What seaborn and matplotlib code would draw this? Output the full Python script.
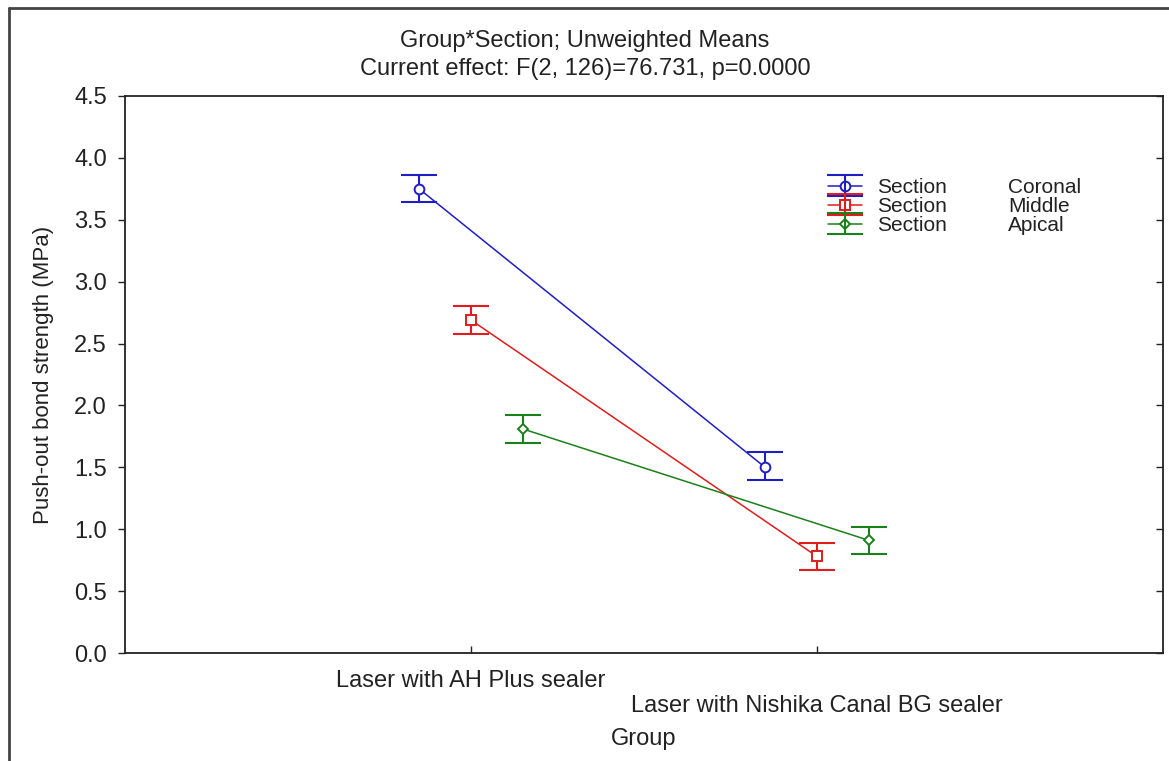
import matplotlib
matplotlib.use("Agg")
import matplotlib.pyplot as plt
import matplotlib.transforms as mtransforms
from matplotlib.lines import Line2D
from matplotlib.legend_handler import HandlerTuple
import seaborn as sns
import pandas as pd
import numpy as np

# ---- data ----
groups = ["Laser with AH Plus sealer", "Laser with Nishika Canal BG sealer"]
sections = ["Coronal", "Middle", "Apical"]
coronal_mean = [3.75, 1.50]
coronal_lo = [3.64, 1.40]
coronal_hi = [3.86, 1.62]
middle_mean = [2.69, 0.78]
middle_lo = [2.58, 0.67]
middle_hi = [2.80, 0.89]
apical_mean = [1.81, 0.91]
apical_lo = [1.70, 0.80]
apical_hi = [1.92, 1.02]
yticks = [0.0, 0.5, 1.0, 1.5, 2.0, 2.5, 3.0, 3.5, 4.0, 4.5]
title1 = "Group*Section; Unweighted Means"
title2 = "Current effect: F(2, 126)=76.731, p=0.0000"

means = {"Coronal": coronal_mean, "Middle": middle_mean, "Apical": apical_mean}
los = {"Coronal": coronal_lo, "Middle": middle_lo, "Apical": apical_lo}
his = {"Coronal": coronal_hi, "Middle": middle_hi, "Apical": apical_hi}

rows = []
for s in sections:
    for i, g in enumerate(groups):
        rows.append({"group": g, "section": s, "mean": means[s][i],
                     "lo": los[s][i], "hi": his[s][i]})
df = pd.DataFrame(rows)

sns.set_theme(style="white")
plt.rcParams["font.family"] = ["Liberation Sans", "DejaVu Sans"]
FS = 17
LFS = 15
TC = "#222222"

colors = {"Coronal": "#1e1ec4", "Middle": "#e01c1c", "Apical": "#1a801a"}
markers = ["o", "s", "D"]
msizes = {"Coronal": 7.0, "Middle": 6.5, "Apical": 5.5}

W, H = 1169, 761
fig = plt.figure(figsize=(W / 100, H / 100), dpi=100)
ax = fig.add_axes([125 / W, 1 - 653 / H, (1163 - 125) / W, (653 - 96) / H])

sns.pointplot(data=df, x="group", y="mean", hue="section", order=groups,
              hue_order=sections, palette=colors, markers=markers,
              linestyles="-", dodge=0.3, errorbar=None, ax=ax,
              markerfacecolor="white", linewidth=1.1, markersize=6,
              legend=False)

# error bars at the positions seaborn placed the points
data_lines = [l for l in ax.lines if len(l.get_xdata()) == len(groups)]
handles = []
for s, line, mk in zip(sections, data_lines, markers):
    line.set_markersize(msizes[s])
    line.set_markeredgewidth(1.4)
    line.set_zorder(4)
    xs = np.asarray(line.get_xdata(), dtype=float)
    sub = df[df.section == s].set_index("group").loc[groups]
    m = sub["mean"].to_numpy()
    yerr = np.vstack([m - sub["lo"].to_numpy(), sub["hi"].to_numpy() - m])
    eb = ax.errorbar(xs, m, yerr=yerr, fmt="none", ecolor=colors[s],
                     elinewidth=1.5, capsize=13, capthick=1.5, zorder=3)
    handles.append((line, eb))

ax.set_xlim(-1, 2)
ax.set_ylim(0, 4.5)
ax.set_yticks(yticks)
ax.set_yticklabels([f"{v:.1f}" for v in yticks], fontsize=FS, color=TC)
ax.set_xticks([0, 1])
ax.set_xticklabels(groups, fontsize=FS, color=TC)

ax.tick_params(axis="y", left=True, right=False, direction="out",
               length=5, width=1, color=TC, pad=8)
ax.tick_params(axis="x", bottom=True, direction="in", length=5, width=1,
               color=TC, pad=12)
sec = ax.secondary_yaxis("right")
sec.set_yticks(yticks)
sec.tick_params(direction="in", length=5, width=1, color=TC, labelright=False)
sec.spines["right"].set_visible(False)
for sp in ax.spines.values():
    sp.set_visible(True)
    sp.set_color(TC)
    sp.set_linewidth(1.3)

# stagger the second category label
lab2 = ax.get_xticklabels()[1]
lab2.set_transform(lab2.get_transform() +
                   mtransforms.ScaledTranslation(0, -25 / 100, fig.dpi_scale_trans))

ax.set_xlabel("Group", fontsize=FS, color=TC)
ax.xaxis.set_label_coords(0.5, -0.135)
ax.set_ylabel("Push-out bond strength (MPa)", fontsize=16, color=TC)
ax.yaxis.set_label_coords(-0.068, 0.5)

fig.text(585 / W, 1 - 41 / H, title1, ha="center", va="center", fontsize=FS,
         color=TC)
fig.text(585 / W, 1 - 69 / H, title2, ha="center", va="center", fontsize=FS,
         color=TC)

leg = ax.legend(handles, ["Section"] * 3,
                handler_map={tuple: HandlerTuple(ndivide=1)},
                loc="upper left",
                bbox_to_anchor=((828 - 125) / (1163 - 125), (653 - 178) / (653 - 96)),
                frameon=False, fontsize=LFS, handlelength=1.65, handletextpad=0.7,
                labelspacing=0.0, borderpad=0, borderaxespad=0)
for t in leg.get_texts():
    t.set_color(TC)

# outer frame lines (left and top visible)
fig.add_artist(Line2D([9 / W, 9 / W], [0, 1 - 8 / H], transform=fig.transFigure,
                      color="#444444", linewidth=2))
fig.add_artist(Line2D([9 / W, 1], [1 - 8 / H, 1 - 8 / H], transform=fig.transFigure,
                      color="#444444", linewidth=2))

fig.canvas.draw()
for t, s in zip(leg.get_texts(), sections):
    bb = t.get_window_extent()
    fig.text(1008 / W, ((bb.y0 + bb.y1) / 2) / H, s, ha="left", va="center",
             fontsize=LFS, color=TC)

fig.savefig("out.png", dpi=100)
